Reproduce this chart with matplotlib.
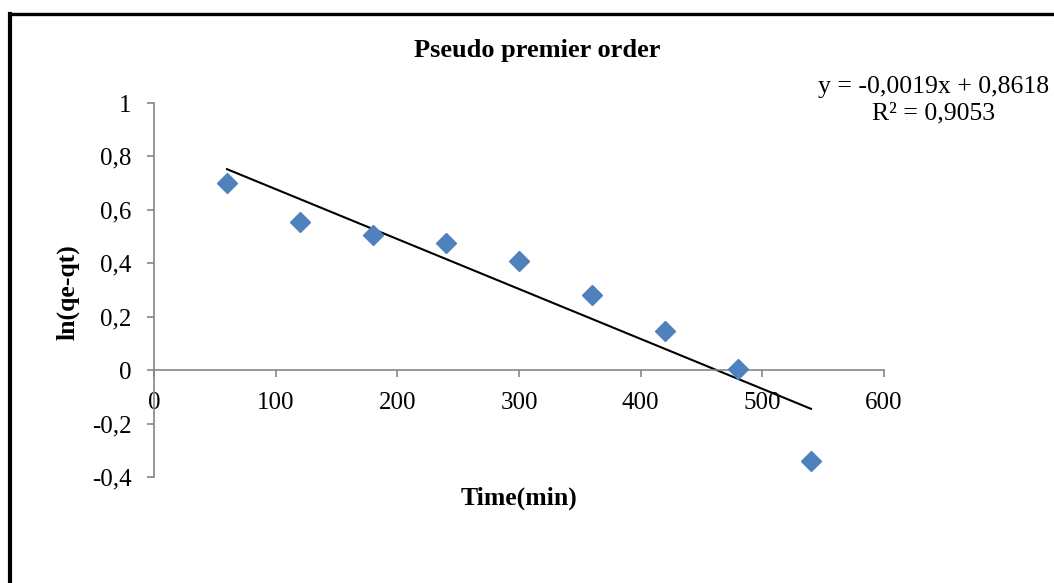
import matplotlib
matplotlib.use("Agg")
import matplotlib.pyplot as plt
from matplotlib.lines import Line2D
import numpy as np

plt.rcParams['font.family'] = ['Liberation Serif', 'DejaVu Serif']

time_min = [60, 120, 180, 240, 300, 360, 420, 480, 540]
ln_qe_qt = [0.700, 0.554, 0.506, 0.476, 0.408, 0.281, 0.146, 0.004, -0.341]
x_ticks = [0, 100, 200, 300, 400, 500, 600]
x_tick_labels = ["0", "100", "200", "300", "400", "500", "600"]
y_ticks = [-0.4, -0.2, 0, 0.2, 0.4, 0.6, 0.8, 1.0]
y_tick_labels = ["-0,4", "-0,2", "0", "0,2", "0,4", "0,6", "0,8", "1"]
title = "Pseudo premier order"
eq_text = "y = -0,0019x + 0,8618\nR\u00b2 = 0,9053"

W, H = 1054, 583
fig = plt.figure(figsize=(W / 100, H / 100), dpi=100)
fig.patch.set_facecolor('white')

left, right = 154 / W, 884 / W
bottom, top = 1 - 477 / H, 1 - 103 / H
ax = fig.add_axes([left, bottom, right - left, top - bottom])
ax.set_xlim(0, 600)
ax.set_ylim(-0.4, 1.0)

grey = '#868686'
for s in ['top', 'right']:
    ax.spines[s].set_visible(False)
ax.spines['bottom'].set_position(('data', 0))
ax.spines['left'].set_position(('data', 0))
for s in ['bottom', 'left']:
    ax.spines[s].set_color(grey)
    ax.spines[s].set_linewidth(1.2)

ax.set_xticks(x_ticks)
ax.set_xticklabels(x_tick_labels)
ax.set_yticks(y_ticks)
ax.set_yticklabels(y_tick_labels)
ax.tick_params(axis='both', direction='out', length=5, width=1.2, color=grey,
               labelsize=18, labelcolor='black')
ax.tick_params(axis='x', pad=11)
ax.tick_params(axis='y', pad=11)

# trendline
coef = np.polyfit(time_min, ln_qe_qt, 1)
xt = np.array([time_min[0], time_min[-1]])
ax.plot(xt, np.polyval(coef, xt), color='black', lw=1.5, zorder=2)

ax.plot(time_min, ln_qe_qt, linestyle='none', marker='D', ms=10.5,
        color='#4F81BD', markeredgecolor='#4F81BD', zorder=3, clip_on=False)

fig.text(537 / W, 1 - 50 / H, title, ha='center', va='center',
         fontsize=19, fontweight='bold')
fig.text(933.5 / W, 1 - 100 / H, eq_text, ha='center', va='center',
         fontsize=18.5, linespacing=1.25)
fig.text(519 / W, 1 - 498 / H, "Time(min)", ha='center', va='center',
         fontsize=18.5, fontweight='bold')
fig.text(68 / W, 1 - 292 / H, "ln(qe-qt)", ha='center', va='center',
         fontsize=18.5, fontweight='bold', rotation=90)

# outer frame (left and top edges visible)
fig.add_artist(Line2D([10 / W, 10 / W], [0, 1 - 14 / H], transform=fig.transFigure,
                      color='black', lw=3.0, solid_capstyle='projecting'))
fig.add_artist(Line2D([10 / W, 1], [1 - 14 / H, 1 - 14 / H], transform=fig.transFigure,
                      color='black', lw=2.4, solid_capstyle='projecting'))

fig.savefig('out.png', dpi=100, facecolor='white')
